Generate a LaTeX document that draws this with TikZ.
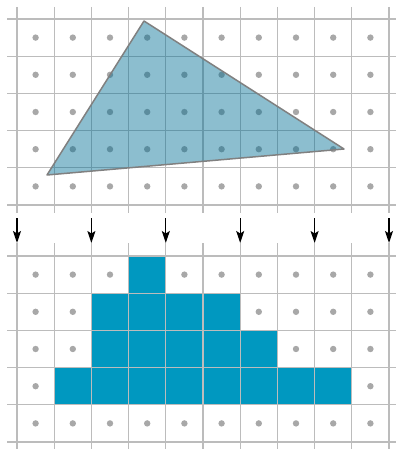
\documentclass[tikz,border=0pt]{standalone}
\usetikzlibrary{arrows.meta}

\definecolor{gridgray}{RGB}{188,188,188}
\definecolor{dotgray}{RGB}{168,168,168}
\definecolor{triblue}{RGB}{0,110,148}
\definecolor{pixblue}{RGB}{0,152,192}

\begin{document}
\begin{tikzpicture}[x=1pt, y=-1pt,
    gridline/.style={gridgray, line width=1.2pt},
    sampledot/.style={fill=dotgray},
    pixel/.style={fill=pixblue},
    scanarrow/.style={-{Stealth[length=12pt, width=8pt, inset=2.5pt]}, line width=1.2pt}]

    \useasboundingbox (0,0) rectangle (396,449);

    % Top grid with sample dots
    \foreach \i in {0,...,9}
        \foreach \j in {0,...,4}
            \fill[sampledot] (35.6+37.2*\i, 37.6+37.2*\j) circle[radius=3.2pt];
    \foreach \i in {0,...,10}
        \draw[gridline] (17+37.2*\i,7) -- (17+37.2*\i,213);
    \foreach \j in {0,...,5}
        \draw[gridline] (7,19+37.2*\j) -- (396,19+37.2*\j);

    % Triangle
    \coordinate (top) at (144,21);
    \coordinate (left) at (47,175);
    \coordinate (right) at (344,149);
    \filldraw[fill=triblue, fill opacity=0.45, draw=gray, line width=1.5pt, line join=round]
        (top) -- (right) -- (left) -- cycle;

    % Arrows down
    \foreach \i in {0,2,...,10} {
        \coordinate (from\i) at (17+37.2*\i,218);
        \coordinate (to\i) at (17+37.2*\i,243);
        \draw[scanarrow] (from\i) -- (to\i);
    }

    % Bottom grid: dots, covered pixels, lines
    \foreach \i in {0,...,9}
        \foreach \j in {0,...,4}
            \fill[sampledot] (35.6+37.2*\i, 274.6+37.2*\j) circle[radius=3.2pt];
    \foreach \c/\r in {3/0, 2/1, 3/1, 4/1, 5/1, 2/2, 3/2, 4/2, 5/2, 6/2,
                       1/3, 2/3, 3/3, 4/3, 5/3, 6/3, 7/3, 8/3}
        \fill[pixel] (17+37.2*\c, 256+37.2*\r) rectangle ++(37.2,37.2);
    \foreach \i in {0,...,10}
        \draw[gridline] (17+37.2*\i,243) -- (17+37.2*\i,449);
    \foreach \j in {0,...,5}
        \draw[gridline] (7,256+37.2*\j) -- (396,256+37.2*\j);

\end{tikzpicture}
\end{document}
